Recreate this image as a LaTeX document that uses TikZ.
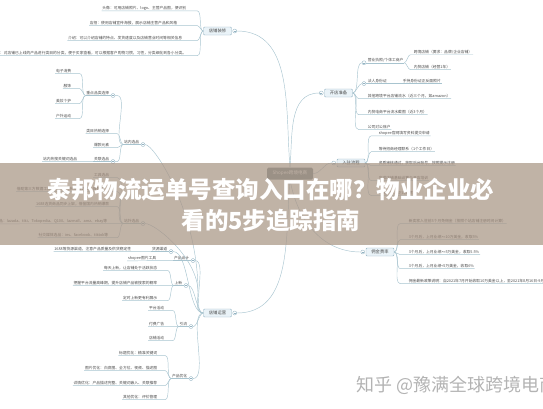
\documentclass[tikz,border=0pt]{standalone}
\usepackage{fontspec}
\newfontfamily\cjk{Noto Sans CJK SC}
\usetikzlibrary{calc}
\definecolor{lnk}{HTML}{A8C4CF}
\definecolor{boxf}{HTML}{EAF3F8}
\definecolor{boxd}{HTML}{93B3C2}
\definecolor{txt}{HTML}{4A4A4A}
\definecolor{cbox}{HTML}{7B878D}
\definecolor{band}{HTML}{A89584}
\definecolor{wm}{HTML}{B3B3B3}
\tikzset{
  link/.style={draw=lnk, line width=0.45pt},
  tl/.style={out=180, in=0, looseness=0.6},
  tr/.style={out=0, in=180, looseness=0.6},
  leaf/.style={font=\cjk\fontsize{3.8}{4.2}\selectfont, text=txt, inner sep=0.6pt},
  topic/.style={draw=boxd, fill=boxf, rounded corners=1pt, minimum width=28pt, minimum height=8pt,
    inner sep=1pt, line width=0.4pt, font=\cjk\fontsize{4.3}{5}\selectfont, text=txt},
  tog/.style={circle, draw=boxd, fill=white, inner sep=0pt, minimum size=4pt, line width=0.35pt,
    path picture={\draw[boxd, line width=0.35pt] ([xshift=-1.1pt]path picture bounding box.center) -- ([xshift=1.1pt]path picture bounding box.center);}}
}
\begin{document}
\begin{tikzpicture}[x=1pt, y=-1pt]
\useasboundingbox (0,0) rectangle (543,408);
\clip (0,0) rectangle (543,408);

% centre and main topics
\node[fill=cbox, rounded corners=1.5pt, minimum width=46pt, minimum height=12pt, inner sep=1pt,
  text=white, font=\cjk\fontsize{4.6}{5}\selectfont] (c) at (290,173.5) {Shopee跨境电商};
\node[topic] (zx) at (217.5,31) {店铺装修};
\node[tog] (zxo) at ($(zx.east)+(3,0)$) {};
\node[topic] (yy) at (217.5,313) {店铺运营};
\node[tog] (yyo) at ($(yy.east)+(3,0)$) {};
\node[topic] (kd) at (338.5,93) {开店准备};
\node[tog] (kdo) at ($(kd.west)+(-3,0)$) {};
\node[topic] (rz) at (351,163) {入驻流程};
\node[tog] (rzo) at ($(rz.west)+(-3,0)$) {};
\node[topic] (yj) at (380,252) {佣金费率};
\node[tog] (yjo) at ($(yj.west)+(-3,0)$) {};

\draw[link] (zxo.east) to[out=0, in=95] (c.north);
\draw[link] (yyo.east) to[out=0, in=-95] (c.south);
\draw[link] (c.north) to[out=85, in=180] (kdo.west);
\draw[link] (c.east) to[out=0, in=180] (rzo.west);
\draw[link] (c.south) to[out=-80, in=180] (yjo.west);

% 店铺装修
\begin{scope}[every node/.style={leaf, anchor=east}]
\node (zx1) at (187,8) {头像：可用店铺照片、logo、主营产品图，便识别};
\node (zx2) at (178,23) {店招：使用店铺宣传海报，展示店铺主营产品和风格};
\node (zx3) at (183,38) {介绍：可以介绍店铺的特点、发货速度以及店铺营业时间等相关信息};
\node (zx4) at (187,53) {分类：对店铺已上线的产品进行类目的分类，便于买家查看，可以根据客户购物习惯，习性，分类细化到各小分类。};
\end{scope}
\draw[link] (zx.west) to[tl] ($(zx.west |- zx1.south)+(-6,0)$) -- (zx1.south west);
\draw[link] (zx.west) to[tl] ($(zx.west |- zx2.south)+(-6,0)$) -- (zx2.south west);
\draw[link] (zx.west) to[tl] ($(zx.west |- zx3.south)+(-6,0)$) -- (zx3.south west);
\draw[link] (zx.west) to[tl] ($(zx.west |- zx4.south)+(-6,0)$) -- (zx4.south west);

% 店铺运营
\begin{scope}[every node/.style={leaf, anchor=east}]
\node (nx) at (140,142) {站内选品};
\node (zd) at (110,93) {重点品类选择};
\node (zd1) at (72,71) {电子消费};
\node (zd2) at (72,86) {服饰};
\node (zd3) at (72,101) {美妆个护};
\node (zd4) at (72,116) {户外运动};
\node (lm) at (110,131) {类目热销选择};
\node (bk) at (110,145) {爆款元素};
\node (gl) at (110,159) {关联选品};
\node (gl1) at (78,159) {站内热搜关键词选品};
\node (wx) at (140,221) {站外选品};
\node (wx1) at (110,175) {工具选品};
\node (wx2) at (105,189) {借助第三方数据工具，分析平台热销趋势及类目数据};
\node (wx3) at (110,204) {1688选货商品同步上架，借鉴国内热销爆款};
\node (wx4) at (108,221) {跨境平台选品：lazada、tiki、Tokopedia、Q100、lazmall、amz、ebay等};
\node (wx5) at (109,235) {社交媒体选品：ins、facebook、tiktok等};
\node (hy) at (168,249) {货源渠道};
\node (hy1) at (132,249) {1688等货源渠道，注意产品质量及供货稳定性};
\node (cs) at (190,258) {产品设计};
\node (cs1) at (157,258) {shopee图片工具};
\node (sx) at (183,283) {上新};
\node (sx1) at (158,268) {每天上新，让店铺处于活跃状态};
\node (sx2) at (158,283) {把握平台流量高峰期，提升店铺产品被搜索的概率};
\node (sx3) at (158,298) {定时上新更有利展示};
\node (yl) at (188,324) {引流};
\node (yl1) at (165,308) {平台活动};
\node (yl2) at (165,324) {付费广告};
\node (yl3) at (165,338) {店铺活动};
\node (yh) at (188,376) {产品优化};
\node (yh1) at (158,353) {标题优化：精准关键词};
\node (yh2) at (158,368) {图片优化：白底图、全方位、视频、描述图};
\node (yh3) at (158,383) {详情优化：产品描述完整、关键词嵌入、关联推荐};
\node (yh4) at (158,397) {其他优化：评价管理};
\end{scope}
\node[tog] (nxo) at ($(nx.south east)+(3,0)$) {};
\node[tog] (zdo) at ($(zd.south east)+(3,0)$) {};
\node[tog] (glo) at ($(gl.south east)+(3,0)$) {};
\node[tog] (wxo) at ($(wx.south east)+(3,0)$) {};
\node[tog] (hyo) at ($(hy.south east)+(3,0)$) {};
\node[tog] (cso) at ($(cs.south east)+(3,0)$) {};
\node[tog] (sxo) at ($(sx.south east)+(3,0)$) {};
\node[tog] (ylo) at ($(yl.south east)+(3,0)$) {};
\node[tog] (yho) at ($(yh.south east)+(3,0)$) {};
\coordinate (yyk) at (198,292);

\draw[link] (nxo.east) to[out=0, in=90, out looseness=0.15, in looseness=1.3] (yyk) to[out=-90, in=180] (yy.west);
\draw[link] (wxo.east) to[out=0, in=90, out looseness=0.3, in looseness=1] (yyk);
\draw[link] (yy.west) to[tl] (hyo.east);
\draw[link] (yy.west) to[tl] (cso.east);
\draw[link] (yy.west) to[tl] (sxo.east);
\draw[link] (yy.west) to[tl] (ylo.east);
\draw[link] (yy.west) to[tl] (yho.east);
\draw[link] (nxo.west) -- (nx.south west);
\draw[link] (wxo.west) -- (wx.south west);
\draw[link] (hyo.west) -- (hy.south west);
\draw[link] (cso.west) -- (cs.south west);
\draw[link] (sxo.west) -- (sx.south west);
\draw[link] (ylo.west) -- (yl.south west);
\draw[link] (yho.west) -- (yh.south west);

\draw[link] (nx.south west) to[tl] ($(nx.south west |- zd.south)+(-6,0)$) -- (zdo.east);
\draw[link] (zdo.west) -- (zd.south west);
\draw[link] (nx.south west) to[tl] ($(nx.south west |- lm.south)+(-6,0)$) -- (lm.south west);
\draw[link] (nx.south west) to[tl] ($(nx.south west |- bk.south)+(-6,0)$) -- (bk.south west);
\draw[link] (nx.south west) to[tl] ($(nx.south west |- gl.south)+(-6,0)$) -- (glo.east);
\draw[link] (glo.west) -- (gl.south west);
\draw[link] (zd.south west) to[tl] ($(zd.south west |- zd1.south)+(-6,0)$) -- (zd1.south west);
\draw[link] (zd.south west) to[tl] ($(zd.south west |- zd2.south)+(-6,0)$) -- (zd2.south west);
\draw[link] (zd.south west) to[tl] ($(zd.south west |- zd3.south)+(-6,0)$) -- (zd3.south west);
\draw[link] (zd.south west) to[tl] ($(zd.south west |- zd4.south)+(-6,0)$) -- (zd4.south west);
\draw[link] (gl.south west) -- (gl1.south west);

\draw[link] (wx.south west) to[tl] ($(wx.south west |- wx1.south)+(-6,0)$) -- (wx1.south west);
\draw[link] (wx.south west) to[tl] ($(wx.south west |- wx2.south)+(-6,0)$) -- (wx2.south west);
\draw[link] (wx.south west) to[tl] ($(wx.south west |- wx3.south)+(-6,0)$) -- (wx3.south west);
\draw[link] (wx.south west) -- (wx4.south west);
\draw[link] (wx.south west) to[tl] ($(wx.south west |- wx5.south)+(-6,0)$) -- (wx5.south west);

\draw[link] (hy.south west) -- (hy1.south west);
\draw[link] (cs.south west) -- (cs1.south west);
\draw[link] (sx.south west) to[tl] ($(sx.south west |- sx1.south)+(-6,0)$) -- (sx1.south west);
\draw[link] (sx.south west) -- (sx2.south west);
\draw[link] (sx.south west) to[tl] ($(sx.south west |- sx3.south)+(-6,0)$) -- (sx3.south west);
\draw[link] (yl.south west) to[tl] ($(yl.south west |- yl1.south)+(-6,0)$) -- (yl1.south west);
\draw[link] (yl.south west) -- (yl2.south west);
\draw[link] (yl.south west) to[tl] ($(yl.south west |- yl3.south)+(-6,0)$) -- (yl3.south west);
\draw[link] (yh.south west) to[tl] ($(yh.south west |- yh1.south)+(-6,0)$) -- (yh1.south west);
\draw[link] (yh.south west) to[tl] ($(yh.south west |- yh2.south)+(-6,0)$) -- (yh2.south west);
\draw[link] (yh.south west) to[tl] ($(yh.south west |- yh3.south)+(-6,0)$) -- (yh3.south west);
\draw[link] (yh.south west) to[tl] ($(yh.south west |- yh4.south)+(-6,0)$) -- (yh4.south west);

% 开店准备
\begin{scope}[every node/.style={leaf, anchor=west}]
\node (yz) at (367,60) {营业执照/个体工商户};
\node (yz1) at (413,52) {跨境店铺（要求：品牌/企业店铺）};
\node (yz2) at (413,67) {内贸店铺（经营1年）};
\node (fr) at (367,81) {法人身份证};
\node (fr1) at (402,81) {手持身份证正反面照片};
\node (kd3) at (367,96) {其他跨境平台店铺流水（近三个月，如amazon）};
\node (kd4) at (367,112) {内贸电商平台流水截图（近3个月）};
\node (kd5) at (367,127) {公司对公账户};
\end{scope}
\node[tog] (yzo) at ($(yz.south west)+(-3,0)$) {};
\node[tog] (fro) at ($(fr.south west)+(-3,0)$) {};
\draw[link] (kd.east) to[tr] (yzo.west);
\draw[link] (yzo.east) -- (yz.south east);
\draw[link] (kd.east) to[tr] (fro.west);
\draw[link] (fro.east) -- (fr.south east);
\draw[link] (kd.east) to[tr] ($(kd.east |- kd3.south)+(6,0)$) -- (kd3.south east);
\draw[link] (kd.east) to[tr] ($(kd.east |- kd4.south)+(6,0)$) -- (kd4.south east);
\draw[link] (kd.east) to[tr] ($(kd.east |- kd5.south)+(6,0)$) -- (kd5.south east);
\draw[link] (yz.south east) to[tr] ($(yz.south east |- yz1.south)+(6,0)$) -- (yz1.south east);
\draw[link] (yz.south east) to[tr] ($(yz.south east |- yz2.south)+(6,0)$) -- (yz2.south east);
\draw[link] (fr.south east) -- (fr1.south east);

% 入驻流程
\begin{scope}[every node/.style={leaf, anchor=west}]
\node (rz1) at (378,133) {shopee官网填写资料提交申请};
\node (rz2) at (378,149) {等待招商经理联系（1个工作日）};
\node (rz3) at (378,163) {资质审核通过，获取后台账号，按照提示注册};
\node (rz4) at (378,178) {完成店铺基础设置与开店培训};
\node (rz5) at (378,193) {开通店铺，正式运营};
\end{scope}
\draw[link] (rz.east) to[tr] ($(rz.east |- rz1.south)+(6,0)$) -- (rz1.south east);
\draw[link] (rz.east) to[tr] ($(rz.east |- rz2.south)+(6,0)$) -- (rz2.south east);
\draw[link] (rz.east) to[tr] ($(rz.east |- rz3.south)+(6,0)$) -- (rz3.south east);
\draw[link] (rz.east) to[tr] ($(rz.east |- rz4.south)+(6,0)$) -- (rz4.south east);
\draw[link] (rz.east) to[tr] ($(rz.east |- rz5.south)+(6,0)$) -- (rz5.south east);

% 佣金费率
\begin{scope}[every node/.style={leaf, anchor=west}]
\node (yj1) at (408,221) {新卖家入驻前3个月免佣金（按照个站店铺注册时间计算）};
\node (yj2) at (408,237) {3个月后，上月业绩>=10万美金，收取5\%};
\node (yj3) at (408,252) {3个月后，上月业绩>=5万美金，收取5.5\%};
\node (yj4) at (408,266) {3个月后，上月业绩<5万美金，收取6\%};
\node (yj5) at (408,281) {佣金最新政策说明：自2021年7月开始收取10万美金以上，至2021年8月16日-9月10日的佣金调整};
\end{scope}
\draw[link] (yj.east) to[tr] ($(yj.east |- yj1.south)+(6,0)$) -- (yj1.south east);
\draw[link] (yj.east) to[tr] ($(yj.east |- yj2.south)+(6,0)$) -- (yj2.south east);
\draw[link] (yj.east) to[tr] ($(yj.east |- yj3.south)+(6,0)$) -- (yj3.south east);
\draw[link] (yj.east) to[tr] ($(yj.east |- yj4.south)+(6,0)$) -- (yj4.south east);
\draw[link] (yj.east) to[tr] ($(yj.east |- yj5.south)+(6,0)$) -- (yj5.south east);

% title band
\fill[band, opacity=0.72] (0,163) rectangle (543,245);
\node[text=white, font=\cjk\bfseries\fontsize{23.5}{26}\selectfont, inner sep=0pt] (t1) at (271,190) {泰邦物流运单号查询入口在哪？物业企业必};
\node[text=white, font=\cjk\bfseries\fontsize{23.5}{26}\selectfont, inner sep=0pt] (t2) at (271,221) {看的5步追踪指南};

% watermark
\node[anchor=west, text=wm, font=\cjk\fontsize{18}{20}\selectfont, inner sep=0pt] (wmk) at (356,385) {知乎 @豫满全球跨境电商};
\end{tikzpicture}
\end{document}
